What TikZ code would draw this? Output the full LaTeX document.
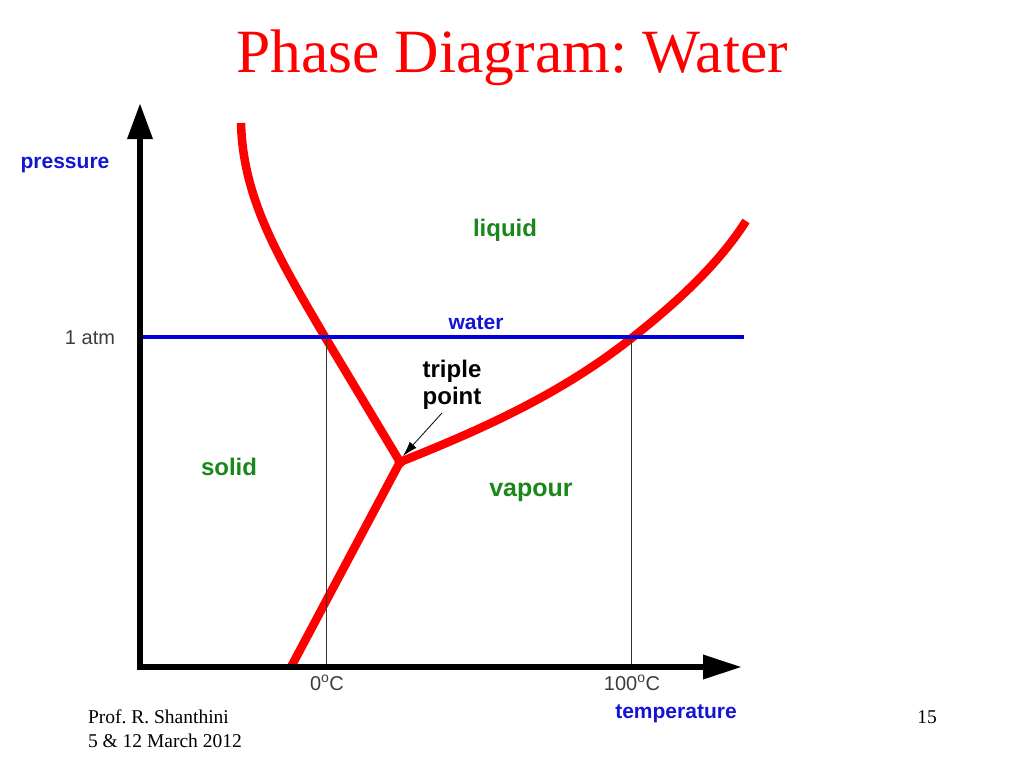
\documentclass[tikz,border=0pt]{standalone}
\usepackage{fontspec}
\setmainfont{Liberation Serif}
\newfontfamily\arialf{Liberation Sans}
\usetikzlibrary{arrows.meta}
\definecolor{cred}{RGB}{255,0,0}
\definecolor{pblue}{RGB}{20,20,215}
\definecolor{lblue}{RGB}{0,0,220}
\definecolor{pgreen}{RGB}{25,135,25}
\definecolor{tgray}{RGB}{60,60,60}
\frenchspacing
\begin{document}
\begin{tikzpicture}[x=1pt,y=-1pt,
  every node/.style={inner sep=0pt, outer sep=0pt},
  curve/.style={line width=8.5pt, draw=cred},
  atmline/.style={line width=3.5pt, draw=lblue},
  guide/.style={line width=1pt, draw=black!80},
  axlabel/.style={font=\arialf\bfseries\fontsize{21}{25}\selectfont, text=pblue, anchor=base},
  phase/.style={font=\arialf\bfseries\fontsize{24}{28}\selectfont, text=pgreen, anchor=base},
  tpl/.style={font=\arialf\bfseries\fontsize{24}{27}\selectfont, text=black, align=center, anchor=base},
  ticklab/.style={font=\arialf\fontsize{20}{24}\selectfont, text=tgray, anchor=base},
  foot/.style={font=\fontsize{19.5}{23}\selectfont, anchor=base west},
]
\useasboundingbox (0,0) rectangle (1024,768);

% title
\node[font=\fontsize{61.5}{70}\selectfont, text=cred, anchor=base] (title) at (512,72) {Phase Diagram: Water};

% key points
\coordinate (origin) at (140,667);
\coordinate (ytip) at (140,103);
\coordinate (xtip) at (742,667);
\coordinate (tp) at (400,462);
\coordinate (melt0) at (241,123);
\coordinate (melt1) at (325,337);
\coordinate (sub0) at (291,667);
\coordinate (vap1) at (633,337);
\coordinate (vapend) at (746,221);
\coordinate (atmL) at (140,337);
\coordinate (atmR) at (744,337);
\coordinate (zTop) at (326,337);
\coordinate (zBot) at (326,667);
\coordinate (hTop) at (631,337);
\coordinate (hBot) at (631,667);
\coordinate (arrS) at (442,413);
\coordinate (arrE) at (403,456);

% phase boundaries
\draw[curve] (melt0) .. controls (243,200) and (280,260) .. (melt1) -- (tp);
\draw[curve] (tp) -- (sub0);
\draw[curve] (tp) .. controls (480,430) and (560,395) .. (vap1) .. controls (680,300) and (720,262) .. (vapend);
\fill[cred] (tp) circle (5.5pt);

% 1 atm line and guides
\draw[atmline] (atmL) -- (atmR);
\draw[guide] (zTop) -- (zBot);
\draw[guide] (hTop) -- (hBot);

% axes
\draw[line width=6.5pt, line cap=rect, -{Triangle[length=36pt,width=24pt]}] (origin) -- (ytip);
\draw[line width=6.5pt, line cap=rect, -{Triangle[length=39pt,width=23pt]}] (origin) -- (xtip);

% triple point arrow
\draw[line width=0.8pt, -{Latex[length=15pt,width=9pt]}] (arrS) -- (arrE);

% labels
\node[axlabel] (pres) at (65,168) {pressure};
\node[axlabel] (temp) at (676,718) {temperature};
\node[axlabel] (water) at (476,329) {water};
\node[ticklab] (atm) at (90,344) {1 atm};
\node[ticklab] (zero) at (327,690) {0\textsuperscript{o}C};
\node[ticklab] (hund) at (632,690) {100\textsuperscript{o}C};
\node[phase] (liq) at (505,236) {liquid};
\node[phase] (sol) at (229,475) {solid};
\node[phase, font=\arialf\bfseries\fontsize{25}{28}\selectfont] (vap) at (531,496) {vapour};
\node[tpl] (tpt1) at (452,377) {triple};
\node[tpl] (tpt2) at (452,404) {point};

% footer
\node[foot] (prof) at (88,723) {Prof. R. Shanthini};
\node[foot] (date) at (88,747) {5 \& 12 March 2012};
\node[font=\fontsize{19.5}{23}\selectfont, anchor=base] (page) at (927,723) {15};
\end{tikzpicture}
\end{document}
